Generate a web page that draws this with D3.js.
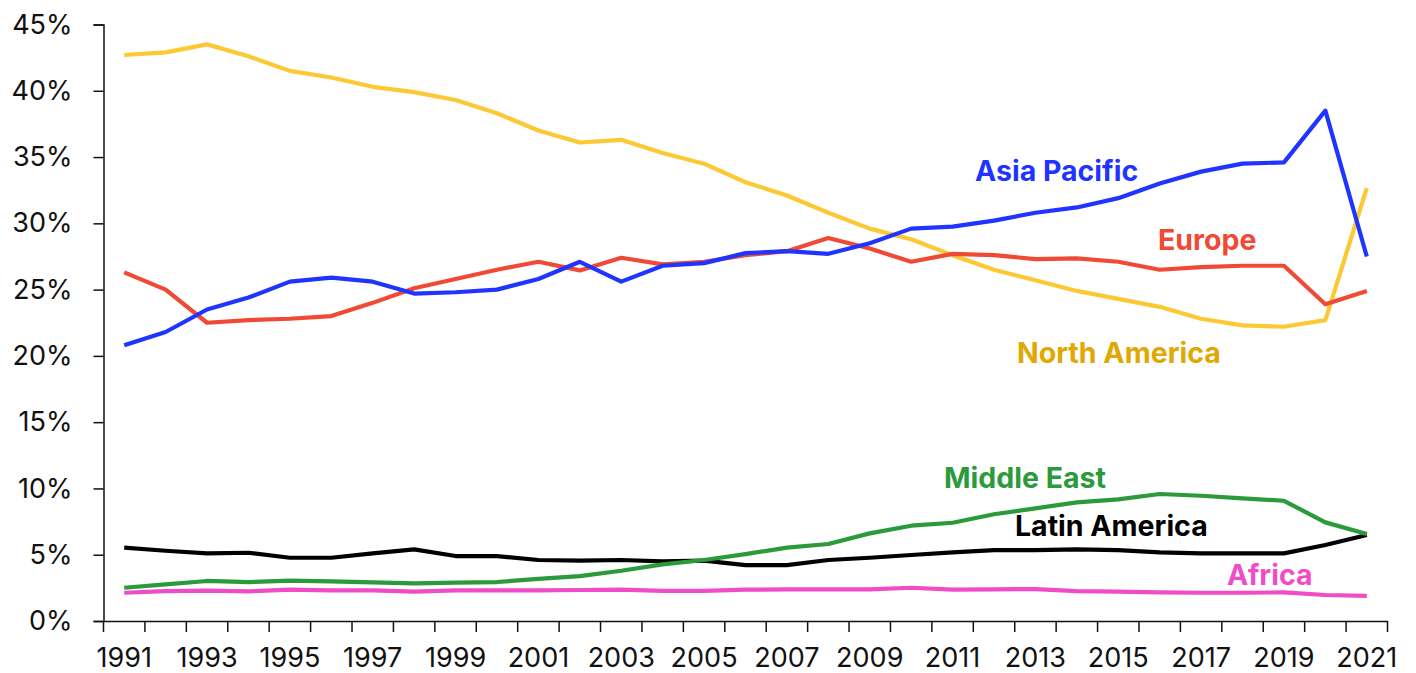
<!DOCTYPE html>
<html>
<head>
<meta charset="utf-8">
<script src="https://cdn.jsdelivr.net/npm/d3@7"></script>
<style>
  body { margin: 0; background: #fff; }
  svg { display: block; font-family: Inter, "Noto Sans", sans-serif; }
</style>
</head>
<body>
<svg id="chart" width="1416" height="673"></svg>
<script>
// Share of total (%) by region, 1991-2021
const years = d3.range(1991, 2022);

const northAmerica = [42.7, 42.9, 43.5, 42.6, 41.5, 41.0, 40.3, 39.9, 39.3, 38.3,
  37.0, 36.1, 36.3, 35.3, 34.5, 33.1, 32.1, 30.8, 29.6, 28.8,
  27.6, 26.5, 25.7, 24.9, 24.3, 23.7, 22.8, 22.3, 22.2, 22.7, 32.65];
const asiaPacific = [20.8, 21.8, 23.5, 24.4, 25.6, 25.9, 25.6, 24.7, 24.8, 25.0,
  25.8, 27.1, 25.6, 26.8, 27.0, 27.75, 27.9, 27.7, 28.5, 29.6,
  29.75, 30.2, 30.8, 31.2, 31.9, 33.0, 33.9, 34.5, 34.6, 38.5, 27.5];
const europe = [26.3, 25.0, 22.5, 22.7, 22.8, 23.0, 24.0, 25.1, 25.8, 26.5,
  27.1, 26.45, 27.4, 26.9, 27.1, 27.6, 27.9, 28.9, 28.1, 27.1,
  27.7, 27.6, 27.3, 27.35, 27.1, 26.5, 26.7, 26.8, 26.8, 23.9, 24.9];
const middleEast = [2.51, 2.76, 3.02, 2.94, 3.04, 2.99, 2.91, 2.84, 2.89, 2.94,
  3.18, 3.39, 3.79, 4.27, 4.6, 5.05, 5.53, 5.81, 6.61, 7.19,
  7.41, 8.05, 8.5, 8.95, 9.18, 9.58, 9.45, 9.25, 9.07, 7.44, 6.56];
const latinAmerica = [5.53, 5.3, 5.1, 5.15, 4.77, 4.77, 5.1, 5.4, 4.9, 4.9,
  4.6, 4.55, 4.6, 4.5, 4.55, 4.22, 4.22, 4.6, 4.77, 4.98,
  5.18, 5.35, 5.35, 5.4, 5.35, 5.18, 5.1, 5.1, 5.1, 5.73, 6.49];
const africa = [2.13, 2.26, 2.29, 2.24, 2.36, 2.31, 2.31, 2.21, 2.31, 2.31,
  2.31, 2.34, 2.36, 2.28, 2.28, 2.36, 2.39, 2.38, 2.38, 2.51,
  2.36, 2.39, 2.41, 2.26, 2.21, 2.16, 2.13, 2.13, 2.16, 1.96, 1.89];

const yTicks = [0, 5, 10, 15, 20, 25, 30, 35, 40, 45];
const xTickLabels = years.filter(y => y % 2 === 1);

// series in drawing order, with label text and anchor
const series = [
  {name: "Africa",        values: africa,       color: "#f04cc8", label: "#f04cc8", lx: 1227, ly: 585},
  {name: "Latin America", values: latinAmerica, color: "#000000", label: "#000000", lx: 1015, ly: 536},
  {name: "Middle East",   values: middleEast,   color: "#2a9a3a", label: "#2a9a3a", lx: 944,  ly: 488},
  {name: "North America", values: northAmerica, color: "#fcc834", label: "#e0a800", lx: 1017, ly: 363},
  {name: "Europe",        values: europe,       color: "#f04a35", label: "#f04a35", lx: 1158, ly: 250},
  {name: "Asia Pacific",  values: asiaPacific,  color: "#1f35ff", label: "#1f35ff", lx: 975,  ly: 181}
];

const svg = d3.select("#chart");
const plotLeft = 103.5, plotRight = 1387.5, plotTop = 24.5, plotBottom = 621;

let x = d3.scaleBand()
  .domain(years)
  .range([plotLeft, plotRight])
  .padding(0);

let y = d3.scaleLinear()
  .domain([0, 45])
  .range([plotBottom, plotTop]);

// y axis
svg.append("g")
  .attr("transform", "translate(" + plotLeft + ",0)")
  .call(d3.axisLeft(y).tickValues(yTicks).tickSize(10).tickPadding(21).tickFormat(d => d + "%"))
  .attr("font-family", null)
  .attr("font-size", null)
  .call(g => g.selectAll("text").style("font-size", "27px").attr("fill", "#111"))
  .call(g => g.selectAll("line").attr("stroke", "#111").attr("stroke-width", 1.5))
  .call(g => g.select(".domain").attr("stroke", "#111").attr("stroke-width", 1.5));

// x axis: labels at band centres, tick marks at band edges
let xAxis = svg.append("g")
  .attr("transform", "translate(0," + plotBottom + ")")
  .call(d3.axisBottom(x).tickValues(xTickLabels).tickSize(0).tickPadding(27))
  .attr("font-family", null)
  .attr("font-size", null)
  .call(g => g.selectAll("text").style("font-size", "27px").attr("fill", "#111"))
  .call(g => g.select(".domain").attr("stroke", "#111").attr("stroke-width", 1.5));

const edges = years.map(d => x(d)).concat([x.range()[1]]);
xAxis.selectAll(".edge")
  .data(edges)
  .enter()
  .append("line")
  .attr("x1", d => d).attr("x2", d => d)
  .attr("y1", 0).attr("y2", 11)
  .attr("stroke", "#111")
  .attr("stroke-width", 1.5);

// lines
let line = d3.line()
  .x((d, i) => x(years[i]) + x.bandwidth() / 2)
  .y(d => y(d));

svg.selectAll(".series")
  .data(series)
  .enter()
  .append("path")
  .attr("fill", "none")
  .attr("stroke", d => d.color)
  .attr("stroke-width", 4.2)
  .attr("stroke-linejoin", "round")
  .attr("d", d => line(d.values));

// direct labels
svg.selectAll(".lbl")
  .data(series)
  .enter()
  .append("text")
  .attr("x", d => d.lx)
  .attr("y", d => d.ly)
  .attr("fill", d => d.label)
  .style("font-size", "28.5px")
  .style("font-weight", "700")
  .text(d => d.name);
</script>
</body>
</html>
